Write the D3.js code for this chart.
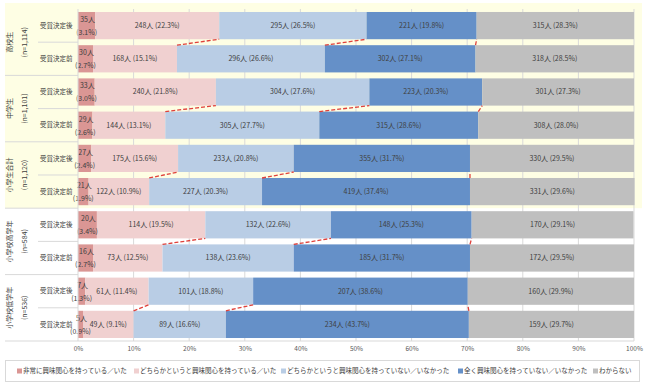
<!DOCTYPE html>
<html>
<head>
<meta charset="utf-8">
<script src="https://cdn.jsdelivr.net/npm/d3@7"></script>
<style>
  body { margin: 0; background: #fff; }
  svg { font-family: "Noto Sans CJK JP", "Noto Sans", sans-serif; }
</style>
</head>
<body>
<div class="chart"></div>
<script>
// groups and their sample sizes
var groups = ['高校生', '中学生', '小学生合計', '小学校高学年', '小学校低学年'];
var groupN = ['1,114', '1,101', '1,120', '584', '536'];
var rowNames = ['受賞決定後', '受賞決定前'];

var seriesNames = [
  '非常に興味関心を持っている／いた',
  'どちらかというと興味関心を持っている／いた',
  'どちらかというと興味関心を持っていない／いなかった',
  '全く興味関心を持っていない／いなかった',
  'わからない'
];
var colors = ['#da9694', '#f0d0d0', '#b9cde5', '#6590c8', '#bfbfbf'];

// people per answer, one row per bar (後, 前 for each group)
var counts = [
  [35, 248, 295, 221, 315],
  [30, 168, 296, 302, 318],
  [33, 240, 304, 223, 301],
  [29, 144, 305, 315, 308],
  [27, 175, 233, 355, 330],
  [21, 122, 227, 419, 331],
  [20, 114, 132, 148, 170],
  [16, 73, 138, 185, 172],
  [7, 61, 101, 207, 160],
  [5, 49, 89, 234, 159]
];
var percents = [
  [3.1, 22.3, 26.5, 19.8, 28.3],
  [2.7, 15.1, 26.6, 27.1, 28.5],
  [3.0, 21.8, 27.6, 20.3, 27.3],
  [2.6, 13.1, 27.7, 28.6, 28.0],
  [2.4, 15.6, 20.8, 31.7, 29.5],
  [1.9, 10.9, 20.3, 37.4, 29.6],
  [3.4, 19.5, 22.6, 25.3, 29.1],
  [2.7, 12.5, 23.6, 31.7, 29.5],
  [1.3, 11.4, 18.8, 38.6, 29.9],
  [0.9, 9.1, 16.6, 43.7, 29.7]
];
var ticks = [0, 10, 20, 30, 40, 50, 60, 70, 80, 90, 100];

var W = 650, H = 384;
var svg = d3.select('.chart').append('svg')
  .attr('width', W).attr('height', H);

// build rows
var rows = [];
groups.forEach(function(g, gi) {
  rowNames.forEach(function(r, ri) {
    var idx = gi * 2 + ri;
    var cum = 0;
    var segs = percents[idx].map(function(p, si) {
      var s = { si: si, x0: cum, x1: cum + p, p: p, c: counts[idx][si] };
      cum += p;
      return s;
    });
    rows.push({ key: idx, group: gi, name: r, segs: segs });
  });
});

var x = d3.scaleLinear().domain([0, 100]).range([78, 634]);
var y = d3.scaleBand().domain(rows.map(d => d.key))
  .range([9, 341]).paddingInner(0.18).paddingOuter(0.09);
var step = y.step();
var bandTop = k => y(k) - step * y.paddingInner() / 2;

// yellow highlight behind first three groups
svg.append('rect')
  .attr('x', 5).attr('y', 3)
  .attr('width', 637).attr('height', bandTop(6) - 3)
  .attr('fill', '#fefee4');

// gridlines
svg.append('g').selectAll('line').data(ticks.slice(1)).enter().append('line')
  .attr('x1', d => x(d)).attr('x2', d => x(d))
  .attr('y1', 9).attr('y2', 341)
  .attr('stroke', '#d9d9d9').attr('stroke-width', 1);

// bars
var bars = svg.append('g').selectAll('g').data(rows).enter().append('g');
bars.selectAll('rect').data(d => d.segs.map(s => Object.assign({ key: d.key }, s)))
  .enter().append('rect')
  .attr('x', d => x(d.x0))
  .attr('y', d => y(d.key))
  .attr('width', d => x(d.x1) - x(d.x0))
  .attr('height', y.bandwidth())
  .attr('fill', d => colors[d.si]);

// series lines between 後 and 前 bars
var sl = svg.append('g');
groups.forEach(function(g, gi) {
  var a = rows[gi * 2], b = rows[gi * 2 + 1];
  [1, 2, 3].forEach(function(k) {
    sl.append('line')
      .attr('x1', x(b.segs[k].x1)).attr('y1', y(b.key))
      .attr('x2', x(a.segs[k].x1)).attr('y2', y(a.key) + y.bandwidth())
      .attr('stroke', '#e0403a').attr('stroke-width', 1.3)
      .attr('stroke-dasharray', '4,2');
  });
});

// data labels
var lab = svg.append('g').attr('font-size', '7px').attr('fill', '#404040')
  .attr('text-anchor', 'middle');
rows.forEach(function(r) {
  var cy = y(r.key) + y.bandwidth() / 2;
  r.segs.forEach(function(s) {
    var cx = (x(s.x0) + x(s.x1)) / 2;
    if (s.si === 0) {
      lab.append('text').attr('x', cx + 1).attr('y', cy - 6).attr('dy', '0.35em')
        .text(s.c + '人');
      lab.append('text').attr('x', cx).attr('y', cy + 7).attr('dy', '0.35em')
        .text('(' + s.p.toFixed(1) + '%)');
    } else {
      lab.append('text').attr('x', cx).attr('y', cy).attr('dy', '0.35em')
        .text(s.c + '人 (' + s.p.toFixed(1) + '%)');
    }
  });
});

// left category area
var left = svg.append('g').attr('fill', '#404040');
rows.forEach(function(r) {
  left.append('text')
    .attr('x', 40).attr('y', y(r.key) + y.bandwidth() / 2)
    .attr('dy', '0.35em').attr('font-size', '6.5px')
    .text(r.name);
});
groups.forEach(function(g, gi) {
  var top = bandTop(gi * 2), bot = bandTop(gi * 2 + 1) + step;
  var mid = (top + bot) / 2;
  left.append('text')
    .attr('transform', 'translate(12,' + mid + ') rotate(-90)')
    .attr('text-anchor', 'middle').attr('font-size', '7px')
    .text(g);
  left.append('text')
    .attr('transform', 'translate(27,' + mid + ') rotate(-90)')
    .attr('text-anchor', 'middle').attr('font-size', '7px')
    .text('(n=' + groupN[gi] + ')');
  // inner separator
  left.append('line')
    .attr('x1', 38).attr('x2', 78)
    .attr('y1', bandTop(gi * 2 + 1)).attr('y2', bandTop(gi * 2 + 1))
    .attr('stroke', '#d9d9d9');
  if (gi < groups.length - 1) {
    left.append('line')
      .attr('x1', 5).attr('x2', 78)
      .attr('y1', bot).attr('y2', bot)
      .attr('stroke', '#d9d9d9');
  }
});

// axes
svg.append('line').attr('x1', 78).attr('x2', 78).attr('y1', 9).attr('y2', 341)
  .attr('stroke', '#d9d9d9');
svg.append('line').attr('x1', 5).attr('x2', 634).attr('y1', 341).attr('y2', 341)
  .attr('stroke', '#d9d9d9');

var xAxis = d3.axisBottom(x).tickValues(ticks).tickSize(0).tickPadding(5)
  .tickFormat(d => d + '%');
var ax = svg.append('g').attr('transform', 'translate(0,341)').call(xAxis);
ax.select('.domain').remove();
ax.selectAll('text').attr('font-size', '6.5px').attr('fill', '#595959')
  .attr('font-family', '"Noto Sans CJK JP", sans-serif');

// legend
svg.append('rect').attr('x', 5.5).attr('y', 360.5).attr('width', 634).attr('height', 21)
  .attr('fill', 'none').attr('stroke', '#d9d9d9');
var legX = [17, 134, 281, 458, 593];
var leg = svg.append('g').selectAll('g').data(seriesNames).enter().append('g')
  .attr('transform', (d, i) => 'translate(' + legX[i] + ',371)');
leg.append('rect').attr('x', 0).attr('y', -2.5).attr('width', 5).attr('height', 5)
  .attr('fill', (d, i) => colors[i]);
leg.append('text').attr('x', 6).attr('dy', '0.35em')
  .attr('font-size', '6.5px').attr('fill', '#404040')
  .text(d => d);
</script>
</body>
</html>
